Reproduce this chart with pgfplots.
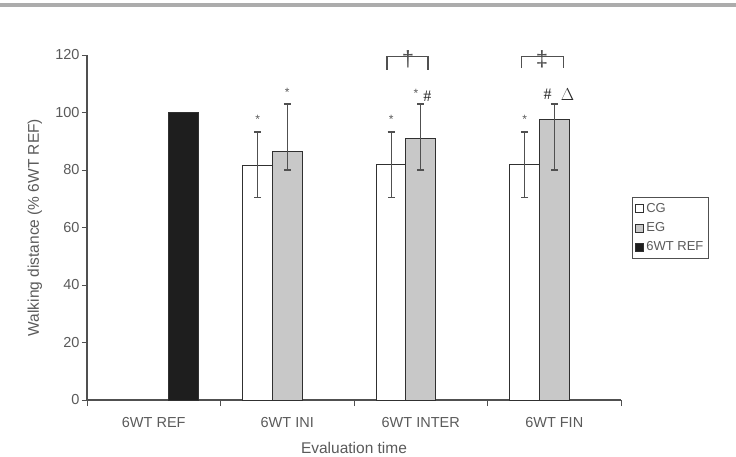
\documentclass[border=0pt]{standalone}
\usepackage{pgfplots}
\pgfplotsset{compat=1.18}
\usepackage{fontspec}
\setmainfont{Liberation Sans}
\newfontfamily\seriff{Liberation Serif}
\definecolor{txt}{HTML}{5A5A5A}
\definecolor{axc}{HTML}{505050}
\definecolor{egfill}{HTML}{C8C8C8}
\definecolor{reffill}{HTML}{1E1E1E}
\definecolor{barline}{HTML}{303030}
\pgfplotsset{boxlegend/.style={legend image code/.code={\draw[##1, line width=0.9pt] (0pt,-4pt) rectangle (8pt,4pt);}}}
\begin{document}
\begin{tikzpicture}[x=1pt,y=1pt]
\path[use as bounding box] (0,0) rectangle (736,456);
\fill[gray!65] (0,449) rectangle (736,453);
\begin{axis}[
  at={(87pt,56pt)}, anchor=south west,
  scale only axis, width=534pt, height=345pt,
  xmin=-0.5, xmax=3.5, ymin=0, ymax=120,
  clip=false,
  ytick={0,20,...,120},
  xtick={0,1,2,3},
  xticklabels={6WT REF,6WT INI,6WT INTER,6WT FIN},
  minor xtick={-0.5,0.5,1.5,2.5,3.5},
  major x tick style={draw=none},
  axis x line*=bottom, axis y line*=left,
  axis line style={axc, line width=1.1pt, -},
  tick style={axc, line width=0.9pt},
  tick align=outside,
  major tick length=5pt, minor tick length=6pt,
  /pgf/number format/assume math mode=true,
  tick label style={font=\fontsize{14.5}{16}\selectfont, text=txt},
  xticklabel style={yshift=-9pt},
  yticklabel style={xshift=1pt},
  xlabel={Evaluation time},
  ylabel={Walking distance (\% 6WT REF)},
  label style={font=\fontsize{15.5}{18}\selectfont, text=txt},
  xlabel style={at={(axis description cs:0.5,-0.139)}, anchor=center},
  ylabel style={at={(axis description cs:-0.0974,0.5)}, anchor=center},
  legend style={at={(rel axis cs:1.0206,0.588)}, anchor=north west,
    draw=axc, line width=0.9pt, font=\fontsize{13}{15}\selectfont, text=txt,
    inner xsep=3pt, inner ysep=4pt, row sep=4.5pt},
  legend cell align=left,
]
\addplot[ybar, bar width=30pt, bar shift=0pt, fill=white, draw=barline, line width=1pt,
  boxlegend,
  error bars/.cd, y dir=both, y explicit,
  error bar style={axc, line width=1.3pt},
  error mark options={rotate=90, mark size=3.5pt, axc, line width=1.3pt}]
coordinates {
  (0.779,81.5) += (0,11.7) -= (0,11)
  (1.779,82)   += (0,11.2) -= (0,11.5)
  (2.779,82)   += (0,11.2) -= (0,11.5)
};
\addlegendentry{CG}
\addplot[ybar, bar width=30pt, bar shift=0pt, fill=egfill, draw=barline, line width=1pt,
  boxlegend,
  error bars/.cd, y dir=both, y explicit,
  error bar style={axc, line width=1.3pt},
  error mark options={rotate=90, mark size=3.5pt, axc, line width=1.3pt}]
coordinates {
  (1,86.5) += (0,16.5) -= (0,6.5)
  (2,91)   += (0,12)   -= (0,11)
  (3,97.5) += (0,5.5)  -= (0,17.5)
};
\addlegendentry{EG}
\addplot[ybar, bar width=30pt, bar shift=0pt, fill=reffill, draw=barline, line width=1pt,
  boxlegend]
coordinates { (0.221,100) };
\addlegendentry{6WT REF}
% significance annotations
\node[text=txt, font=\fontsize{12}{13}\selectfont] at (axis cs:0.779,97.6) {*};
\node[text=txt, font=\fontsize{12}{13}\selectfont] at (axis cs:1.0,107) {*};
\node[text=txt, font=\fontsize{12}{13}\selectfont] at (axis cs:1.779,97.6) {*};
\node[text=txt, font=\fontsize{12}{13}\selectfont] at (axis cs:1.965,106.8) {*};
\node[text=black!85, font=\seriff\fontsize{16}{18}\selectfont] at (axis cs:2.05,105.8) {\#};
\node[text=txt, font=\fontsize{12}{13}\selectfont] at (axis cs:2.779,97.6) {*};
\node[text=black!85, font=\seriff\fontsize{16}{18}\selectfont] at (axis cs:2.95,106.2) {\#};
\node[text=black!85, font=\seriff\fontsize{16}{18}\selectfont] at (axis cs:3.10,106.2) {$\Delta$};
\draw[axc, line width=1.1pt] (axis cs:1.747,114.8) -- (axis cs:1.747,119.6) -- (axis cs:2.054,119.6) -- (axis cs:2.054,114.8);
\draw[axc, line width=1.1pt] (axis cs:2.758,115.4) -- (axis cs:2.758,119.6) -- (axis cs:3.066,119.6) -- (axis cs:3.066,115.4);
\node[text=axc, font=\fontsize{22}{24}\selectfont] at (axis cs:1.904,118.6) {\textdagger};
\node[text=axc, font=\fontsize{22}{24}\selectfont] at (axis cs:2.908,118.6) {\textdaggerdbl};
\end{axis}
\end{tikzpicture}
\end{document}
